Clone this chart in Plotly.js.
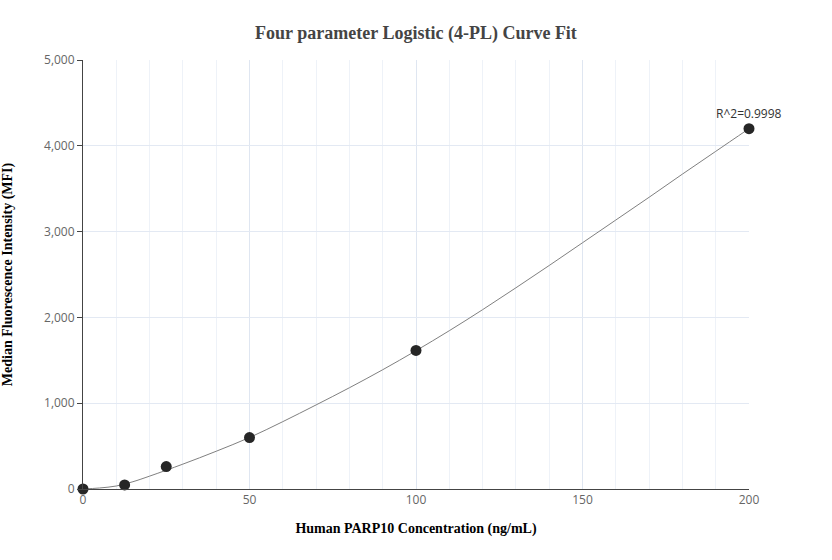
<!DOCTYPE html>
<html>
<head>
<meta charset="utf-8">
<script src="https://cdn.plot.ly/plotly-3.0.1.min.js"></script>
<style>html,body{margin:0;padding:0;background:#fff;}#chart{width:832px;height:560px;}</style>
</head>
<body>
<div id="chart"></div>
<script>
// Measured standards
const concentrations = [0, 12.5, 25, 50, 100, 200];
const mfiValues = [0, 47, 262, 600, 1615, 4200];

// Fitted 4-PL curve
const curveX = [0, 5, 10, 15, 20, 30, 40, 50, 60, 70, 80, 90, 100, 110, 120, 130, 140, 150, 160, 170, 180, 190, 200];
const curveY = [0, 12, 35, 85, 150, 290, 440, 600, 785, 980, 1180, 1390, 1612, 1845, 2090, 2345, 2605, 2870, 3135, 3400, 3670, 3935, 4200];

const annotationText = "R^2=0.9998";

const traces = [
  {
    x: curveX, y: curveY, type: 'scatter', mode: 'lines',
    line: {color: '#808080', width: 1, shape: 'spline'},
    hoverinfo: 'skip', showlegend: false, cliponaxis: false
  },
  {
    x: concentrations, y: mfiValues, type: 'scatter', mode: 'markers',
    marker: {color: '#262626', size: 11},
    showlegend: false, cliponaxis: false
  }
];

const layout = {
  width: 832, height: 560,
  margin: {l: 83, r: 83, t: 60, b: 71},
  paper_bgcolor: '#fff', plot_bgcolor: '#fff',
  title: {
    text: '<b>Four parameter Logistic (4-PL) Curve Fit</b>',
    font: {family: 'Liberation Serif, Times New Roman, serif', size: 18, color: '#444'},
    x: 0.5, xanchor: 'center', y: 0.942, yanchor: 'middle'
  },
  xaxis: {
    range: [0, 200], dtick: 50, tick0: 0,
    showline: true, linecolor: '#444', linewidth: 1,
    gridcolor: '#dfe6f1', zeroline: false,
    ticks: '', tickfont: {family: 'Open Sans, sans-serif', size: 12, color: '#666'},
    minor: {dtick: 10, showgrid: true, gridcolor: '#eef2f8', ticks: ''},
    title: {text: '<b>Human PARP10 Concentration (ng/mL)</b>',
      font: {family: 'Liberation Serif, Times New Roman, serif', size: 14, color: '#000'}, standoff: 15}
  },
  yaxis: {
    range: [0, 5000], dtick: 1000, tick0: 0,
    showline: true, linecolor: '#444', linewidth: 1,
    gridcolor: '#e3e9f3', zeroline: false,
    ticks: 'outside', ticklen: 5, tickcolor: '#444',
    tickformat: ',d', separatethousands: true,
    tickfont: {family: 'Open Sans, sans-serif', size: 12, color: '#666'},
    title: {text: '<b>Median Fluorescence Intensity (MFI)</b>',
      font: {family: 'Liberation Serif, Times New Roman, serif', size: 14, color: '#000'}, standoff: 30}
  },
  annotations: [{
    x: concentrations[concentrations.length - 1], y: mfiValues[mfiValues.length - 1],
    xref: 'x', yref: 'y', text: annotationText, showarrow: false,
    yanchor: 'bottom', yshift: 5,
    font: {family: 'Open Sans, sans-serif', size: 12, color: '#333'}
  }]
};

Plotly.newPlot('chart', traces, layout, {displayModeBar: false, staticPlot: true});
</script>
</body>
</html>
